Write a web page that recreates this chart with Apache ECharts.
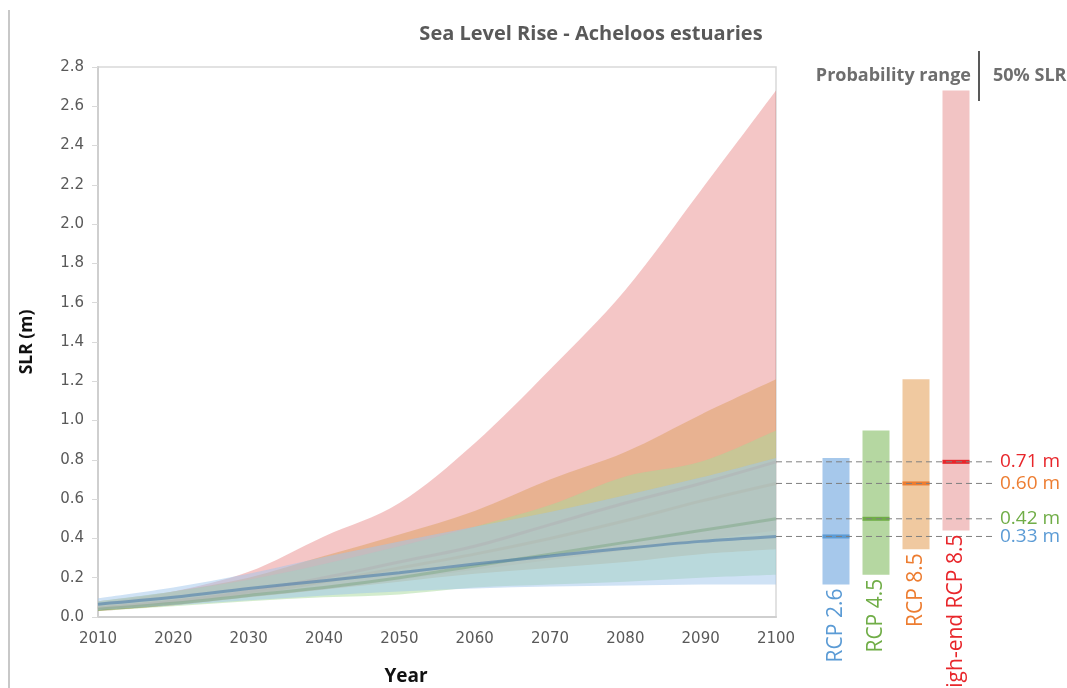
<!DOCTYPE html>
<html>
<head>
<meta charset="utf-8">
<title>Sea Level Rise - Acheloos estuaries</title>
<script src="https://cdn.jsdelivr.net/npm/echarts@6/dist/echarts.min.js"></script>
<style>
  html, body { margin: 0; padding: 0; background: #ffffff; }
  #chart { width: 1067px; height: 688px; }
</style>
</head>
<body>
<div id="chart"></div>
<script>
// Projection years (decadal steps)
const years = [2010, 2020, 2030, 2040, 2050, 2060, 2070, 2080, 2090, 2100];

// RCP 2.6 – probability range and median (m)
const rcp26Low  = [0.035, 0.06, 0.085, 0.11, 0.13, 0.145, 0.155, 0.16, 0.165, 0.165];
const rcp26High = [0.095, 0.15, 0.22, 0.305, 0.385, 0.46, 0.535, 0.62, 0.71, 0.81];
const rcp26Mid  = [0.065, 0.10, 0.145, 0.185, 0.225, 0.27, 0.31, 0.35, 0.385, 0.41];

// RCP 4.5
const rcp45Low  = [0.03, 0.055, 0.08, 0.10, 0.115, 0.15, 0.165, 0.18, 0.20, 0.215];
const rcp45High = [0.08, 0.13, 0.19, 0.27, 0.36, 0.46, 0.57, 0.715, 0.79, 0.95];
const rcp45Mid  = [0.04, 0.07, 0.11, 0.15, 0.20, 0.26, 0.32, 0.38, 0.44, 0.50];

// RCP 8.5
const rcp85Low  = [0.035, 0.06, 0.10, 0.14, 0.18, 0.22, 0.25, 0.28, 0.32, 0.345];
const rcp85High = [0.08, 0.13, 0.20, 0.31, 0.42, 0.54, 0.70, 0.84, 1.03, 1.21];
const rcp85Mid  = [0.045, 0.08, 0.12, 0.18, 0.25, 0.32, 0.40, 0.49, 0.59, 0.68];

// High-end RCP 8.5
const highLow  = [0.03, 0.06, 0.10, 0.14, 0.19, 0.24, 0.29, 0.34, 0.39, 0.44];
const highHigh = [0.07, 0.13, 0.23, 0.41, 0.58, 0.885, 1.26, 1.665, 2.17, 2.68];
const highMid  = [0.045, 0.08, 0.13, 0.20, 0.28, 0.36, 0.47, 0.58, 0.68, 0.79];

// Side panel: scenario names and the 50% SLR values quoted for 2100
const scenarios = ['RCP 2.6', 'RCP 4.5', 'RCP 8.5', 'High-end RCP 8.5'];
const median2100 = [0.33, 0.42, 0.60, 0.71];
// quoted values are given relative to a level 0.08 m below the plotted datum
const quoteDatum = 0.08;

// Axis ticks
const yTicks = { min: 0, max: 2.8, step: 0.2 };
const xTicks = { min: 2010, max: 2100, step: 10 };

// ---- styling ----
const bandFill = {
  high:  'rgba(218, 65, 65, 0.30)',
  rcp85: 'rgba(224, 165, 110, 0.60)',
  rcp45: 'rgba(168, 218, 156, 0.50)',
  rcp26: 'rgba(159, 197, 235, 0.50)'
};
const midColor = {
  high:  'rgba(225, 120, 110, 0.75)',
  rcp85: 'rgba(225, 140, 100, 0.75)',
  rcp45: 'rgba(100, 140, 40, 0.55)',
  rcp26: 'rgba(70, 120, 170, 0.55)'
};
const sideBar  = ['#A6C8EB', '#B5D7A1', '#F0C9A0', '#F2C4C4'];
const sideMark = ['#5B9BD5', '#70AD47', '#ED7D31', '#E8262B'];
const sideText = ['#5B9BD5', '#70AD47', '#ED7D31', '#E8262B'];

const pairs = (arr) => years.map((y, i) => [y, arr[i]]);

// Catmull-Rom segments through pixel points, as SVG path commands
function splineTo(pts) {
  let d = '';
  for (let i = 0; i < pts.length - 1; i++) {
    const p0 = pts[Math.max(i - 1, 0)];
    const p1 = pts[i];
    const p2 = pts[i + 1];
    const p3 = pts[Math.min(i + 2, pts.length - 1)];
    const c1x = p1[0] + (p2[0] - p0[0]) / 6, c1y = p1[1] + (p2[1] - p0[1]) / 6;
    const c2x = p2[0] - (p3[0] - p1[0]) / 6, c2y = p2[1] - (p3[1] - p1[1]) / 6;
    d += ' C' + c1x + ',' + c1y + ' ' + c2x + ',' + c2y + ' ' + p2[0] + ',' + p2[1];
  }
  return d;
}

// Probability band between a lower and an upper curve
function bandSeries(key, lo, hi, z) {
  return {
    type: 'custom', xAxisIndex: 0, yAxisIndex: 0, silent: true, clip: true, z: z,
    data: years.map((y, i) => [y, lo[i], hi[i]]),
    renderItem: (params, api) => {
      if (params.dataIndex !== 0) return null;
      const upper = years.map((y, i) => api.coord([y, hi[i]]));
      const lower = years.map((y, i) => api.coord([y, lo[i]])).reverse();
      const d = 'M' + upper[0][0] + ',' + upper[0][1] + splineTo(upper) +
        ' L' + lower[0][0] + ',' + lower[0][1] + splineTo(lower) + ' Z';
      return {
        type: 'path',
        shape: { pathData: d },
        style: { fill: bandFill[key], stroke: null }
      };
    }
  };
}
function medianSeries(key, mid, z) {
  return {
    type: 'line', xAxisIndex: 0, yAxisIndex: 0, smooth: 0.35, symbol: 'none',
    silent: true, z: z, data: pairs(mid),
    lineStyle: { width: 3, color: midColor[key] }
  };
}

const last = years.length - 1;
const sideData = [
  [0, rcp26Low[last], rcp26High[last], median2100[0]],
  [1, rcp45Low[last], rcp45High[last], median2100[1]],
  [2, rcp85Low[last], rcp85High[last], median2100[2]],
  [3, highLow[last],  highHigh[last],  median2100[3]]
];

const BAR_W = 27;
function renderSide(params, api) {
  const i = api.value(0);
  const lo = api.value(1), hi = api.value(2), quoted = api.value(3);
  const med = quoted + quoteDatum;
  const pTop = api.coord([i, hi]);
  const pBot = api.coord([i, lo]);
  const pMed = api.coord([i, med]);
  const cs = params.coordSys;
  const band = api.size([1, 0])[0];
  const xStart = cs.x - band;
  const xEnd = cs.x + cs.width + band * 0.45;
  const cx = pTop[0];
  return {
    type: 'group',
    children: [
      {
        type: 'rect', z2: 1,
        shape: { x: cx - BAR_W / 2, y: pTop[1], width: BAR_W, height: pBot[1] - pTop[1] },
        style: { fill: sideBar[i] }
      },
      {
        type: 'rect', z2: 5,
        shape: { x: cx - BAR_W / 2, y: pMed[1] - 2, width: BAR_W, height: 4 },
        style: { fill: sideMark[i] }
      },
      {
        type: 'line', z2: 10,
        shape: { x1: xStart, y1: pMed[1], x2: xEnd, y2: pMed[1] },
        style: { stroke: '#7F7F7F', lineWidth: 1, lineDash: [6, 4] }
      },
      {
        type: 'text', z2: 10,
        x: xEnd + 6, y: pMed[1],
        style: {
          text: quoted.toFixed(2) + ' m', fill: sideText[i],
          font: '19px "Open Sans", sans-serif', align: 'left', verticalAlign: 'middle'
        }
      },
      {
        type: 'text', z2: 10,
        x: cx, y: pBot[1] + 4, rotation: Math.PI / 2,
        style: {
          text: scenarios[i], fill: sideText[i],
          font: '21px "Open Sans", sans-serif', align: 'right', verticalAlign: 'middle'
        }
      }
    ]
  };
}

const chart = echarts.init(document.getElementById('chart'), null, { renderer: 'canvas' });

const option = {
  backgroundColor: '#ffffff',
  animation: false,
  title: [
    {
      text: 'Sea Level Rise - Acheloos estuaries',
      left: 586, top: 19, textAlign: 'center',
      textStyle: { fontFamily: 'Open Sans', fontWeight: 'bold', fontSize: 20, color: '#595959' }
    },
    {
      text: 'Probability range',
      left: 966, top: 62, textAlign: 'right',
      textStyle: { fontFamily: 'Open Sans', fontWeight: 'bold', fontSize: 18, color: '#6E6E6E' }
    },
    {
      text: '50% SLR',
      left: 988, top: 62,
      textStyle: { fontFamily: 'Open Sans', fontWeight: 'bold', fontSize: 18, color: '#6E6E6E' }
    }
  ],
  graphic: [
    { type: 'line', shape: { x1: 979, y1: 51, x2: 979, y2: 101 }, style: { stroke: '#222', lineWidth: 1.5 } },
    { type: 'line', shape: { x1: 9, y1: 10, x2: 9, y2: 688 }, style: { stroke: '#C8C8C8', lineWidth: 2 } }
  ],
  grid: [
    { left: 98, top: 67, width: 678, bottom: 71, show: true, borderColor: '#D9D9D9', borderWidth: 1.5,
      containLabel: false, outerBoundsMode: 'none' },
    { left: 816, top: 67, width: 160, bottom: 71, containLabel: false, outerBoundsMode: 'none' }
  ],
  xAxis: [
    {
      gridIndex: 0, type: 'value', min: xTicks.min, max: xTicks.max, interval: xTicks.step,
      name: 'Year', nameLocation: 'middle', nameGap: 50,
      nameTextStyle: { fontFamily: 'Open Sans', fontWeight: 'bold', fontSize: 19, color: '#111', padding: [0, 62, 0, 0] },
      axisLine: { show: true, lineStyle: { color: '#CFCFCF', width: 2 } },
      axisTick: { show: false },
      splitLine: { show: false },
      axisLabel: {
        fontFamily: 'DejaVu Sans', fontSize: 15, color: '#595959', margin: 15,
        formatter: (v) => String(v)
      }
    },
    {
      gridIndex: 1, type: 'category', data: scenarios, show: false
    }
  ],
  yAxis: [
    {
      gridIndex: 0, type: 'value', min: yTicks.min, max: yTicks.max, interval: yTicks.step,
      name: 'SLR (m)', nameLocation: 'middle', nameGap: 62, nameRotate: 90,
      nameTextStyle: { fontFamily: 'Open Sans', fontWeight: 'bold', fontSize: 17.5, color: '#111' },
      axisLine: { show: true, lineStyle: { color: '#CFCFCF', width: 2 } },
      axisTick: { show: true, length: 6, lineStyle: { color: '#D9D9D9' } },
      splitLine: { show: false },
      axisLabel: {
        fontFamily: 'DejaVu Sans', fontSize: 15, color: '#595959', margin: 14,
        formatter: (v) => v.toFixed(1)
      }
    },
    {
      gridIndex: 1, type: 'value', min: yTicks.min, max: yTicks.max, show: false
    }
  ],
  series: [
    bandSeries('high', highLow, highHigh, 1),
    bandSeries('rcp85', rcp85Low, rcp85High, 2),
    medianSeries('high', highMid, 3),
    medianSeries('rcp85', rcp85Mid, 4),
    bandSeries('rcp45', rcp45Low, rcp45High, 5),
    medianSeries('rcp45', rcp45Mid, 6),
    bandSeries('rcp26', rcp26Low, rcp26High, 7),
    medianSeries('rcp26', rcp26Mid, 8),
    {
      type: 'custom', xAxisIndex: 1, yAxisIndex: 1, silent: true,
      renderItem: renderSide, data: sideData, z: 10
    }
  ]
};

chart.setOption(option);
</script>
</body>
</html>
